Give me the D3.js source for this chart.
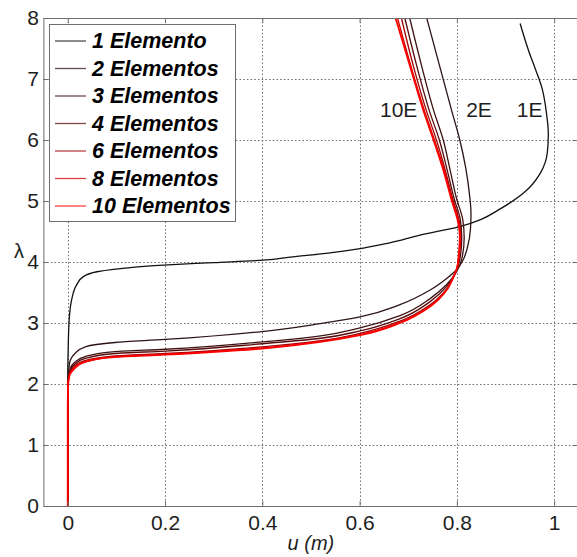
<!DOCTYPE html>
<html>
<head>
<meta charset="utf-8">
<script src="https://cdn.jsdelivr.net/npm/d3@7"></script>
<style>
  html, body { margin: 0; padding: 0; background: #fff; }
  svg { display: block; font-family: "Liberation Sans", Arial, sans-serif; }
</style>
</head>
<body>
<svg id="chart" width="577" height="557"></svg>
<script>
// Load-displacement curves: λ versus tip displacement u (m) for meshes of 1..10 elements.
// Each series is a list of [u, λ] pairs, ordered by increasing λ.
const el1 = [[0,0],[0,1.0],[0,2.0],[0.001,2.6],[0.003,3.05],[0.008,3.38],[0.018,3.62],[0.032,3.76],
  [0.06,3.84],[0.094,3.88],[0.197,3.95],[0.30,3.99],[0.402,4.03],[0.457,4.08],[0.539,4.15],
  [0.594,4.21],[0.66,4.31],[0.724,4.44],[0.806,4.58],[0.85,4.70],[0.889,4.87],[0.937,5.13],
  [0.971,5.45],[0.986,5.80],[0.988,6.10],[0.984,6.45],[0.975,6.85],[0.962,7.15],[0.948,7.45],[0.930,7.91]];
const el2 = [[0,0],[0,1.5],[0.001,2.1],[0.004,2.35],[0.015,2.50],[0.036,2.61],[0.097,2.68],[0.2,2.73],
  [0.399,2.86],[0.519,2.99],[0.601,3.10],[0.683,3.30],[0.745,3.54],[0.779,3.73],[0.798,3.86],
  [0.812,4.02],[0.822,4.25],[0.828,4.55],[0.829,4.80],[0.826,5.10],[0.818,5.55],[0.806,6.0],
  [0.789,6.49],[0.765,7.2],[0.738,8.0]];
const el3 = [[0,0],[0,1.6],[0.001,2.05],[0.005,2.25],[0.015,2.36],[0.036,2.45],[0.097,2.53],[0.2,2.57],
  [0.4,2.69],[0.52,2.79],[0.601,2.92],[0.683,3.12],[0.745,3.40],[0.779,3.63],[0.800,3.85],
  [0.811,4.08],[0.815,4.40],[0.812,4.70],[0.800,5.02],[0.786,5.51],[0.772,6.0],[0.752,6.49],
  [0.728,7.2],[0.703,8.0]];
const el4 = [[0,0],[0,1.6],[0.001,2.03],[0.005,2.22],[0.015,2.33],[0.036,2.42],[0.097,2.50],[0.2,2.54],
  [0.4,2.66],[0.52,2.75],[0.601,2.87],[0.683,3.07],[0.745,3.35],[0.779,3.60],[0.797,3.82],
  [0.807,4.08],[0.810,4.40],[0.807,4.70],[0.795,5.02],[0.780,5.51],[0.764,6.0],[0.743,6.49],
  [0.718,7.2],[0.693,8.0]];
const el6 = [[0,0],[0,1.6],[0.001,2.01],[0.004,2.18],[0.012,2.28],[0.03,2.37],[0.097,2.46],[0.2,2.50],
  [0.4,2.61],[0.52,2.71],[0.601,2.83],[0.683,3.03],[0.745,3.30],[0.779,3.56],[0.795,3.78],
  [0.804,4.08],[0.808,4.40],[0.805,4.67],[0.792,5.02],[0.776,5.51],[0.758,6.0],[0.737,6.49],
  [0.711,7.2],[0.686,8.0]];
const el8 = [[0,0],[0,1.6],[0.001,2.0],[0.004,2.16],[0.01,2.24],[0.025,2.33],[0.097,2.45],[0.2,2.49],
  [0.4,2.59],[0.52,2.70],[0.601,2.81],[0.683,3.01],[0.745,3.28],[0.779,3.55],[0.794,3.77],
  [0.802,3.95],[0.805,4.14],[0.807,4.41],[0.804,4.64],[0.790,5.02],[0.774,5.51],[0.754,6.0],
  [0.733,6.49],[0.706,7.2],[0.678,8.0]];
const el10 = [[0,0],[0,1.6],[0.001,2.0],[0.004,2.15],[0.008,2.2],[0.022,2.31],[0.042,2.38],[0.097,2.44],
  [0.2,2.48],[0.4,2.58],[0.519,2.69],[0.601,2.80],[0.683,3.0],[0.745,3.27],[0.779,3.54],
  [0.793,3.76],[0.801,3.92],[0.804,4.14],[0.806,4.41],[0.803,4.63],[0.789,5.02],[0.772,5.51],
  [0.752,6.0],[0.731,6.49],[0.704,7.2],[0.674,8.0]];

const seriesNames = ["1 Elemento", "2 Elementos", "3 Elementos", "4 Elementos", "6 Elementos", "8 Elementos", "10 Elementos"];
const seriesData = [el1, el2, el3, el4, el6, el8, el10];
const seriesColors = ["#111111", "#2e1414", "#3c1212", "#560c0c", "#a00000", "#d20000", "#ff0000"];

const xTicks = [0, 0.2, 0.4, 0.6, 0.8, 1];
const yTicks = [0, 1, 2, 3, 4, 5, 6, 7, 8];
const curveLabels = [["10E", 0.642, 6.37], ["2E", 0.819, 6.37], ["1E", 0.923, 6.37]];

const svg = d3.select("#chart");
const plotLeft = 43.4, plotRight = 578.5, plotTop = 18, plotBottom = 506;
const x = d3.scaleLinear().domain([-0.05, 1.05]).range([plotLeft, plotRight]);
const y = d3.scaleLinear().domain([0, 8]).range([plotBottom, plotTop]);

// dotted grid
const grid = svg.append("g").attr("stroke", "#6a6a6a").attr("stroke-width", 1)
  .attr("stroke-dasharray", "1.5,2.2");
grid.selectAll("line.gx").data(xTicks).join("line")
  .attr("x1", d => Math.round(x(d)) + 0.5).attr("x2", d => Math.round(x(d)) + 0.5)
  .attr("y1", plotTop).attr("y2", plotBottom);
grid.selectAll("line.gy").data(yTicks.filter(d => d > 0 && d < 8)).join("line")
  .attr("x1", plotLeft).attr("x2", plotRight)
  .attr("y1", d => Math.round(y(d)) + 0.5).attr("y2", d => Math.round(y(d)) + 0.5);

// curves
const line = d3.line().x(d => x(d[0])).y(d => y(d[1])).curve(d3.curveMonotoneY);
svg.append("g").selectAll("path").data(seriesData).join("path")
  .attr("d", line)
  .attr("fill", "none")
  .attr("stroke", (d, i) => seriesColors[i])
  .attr("stroke-width", (d, i) => i === seriesData.length - 1 ? 1.8 : 1.3)
  .attr("stroke-linejoin", "round");

// axes box with inward ticks
const axisColor = "#6e6e6e";
const fontSize = 21;
function styleAxis(g, showText) {
  g.select(".domain").attr("stroke", axisColor);
  g.selectAll(".tick line").attr("stroke", axisColor);
  g.selectAll(".tick text").attr("fill", "#1e1e1e").style("font-size", fontSize + "px")
    .style("font-family", "'Liberation Sans', Arial, sans-serif");
  if (!showText) g.selectAll(".tick text").remove();
}
svg.append("g").attr("transform", `translate(0,${plotBottom})`)
  .call(d3.axisBottom(x).tickValues(xTicks).tickFormat(d3.format("~g")).tickSize(-5).tickSizeOuter(0).tickPadding(9))
  .call(g => styleAxis(g, true));
svg.append("g").attr("transform", `translate(0,${plotTop})`)
  .call(d3.axisTop(x).tickValues(xTicks).tickSize(-5).tickSizeOuter(0))
  .call(g => styleAxis(g, false));
svg.append("g").attr("transform", `translate(${plotLeft},0)`)
  .call(d3.axisLeft(y).tickValues(yTicks).tickFormat(d3.format("d")).tickSize(-5).tickSizeOuter(0).tickPadding(4.5))
  .call(g => styleAxis(g, true));
svg.append("g").attr("transform", `translate(${plotRight},0)`)
  .call(d3.axisRight(y).tickValues(yTicks).tickSize(-5).tickSizeOuter(0))
  .call(g => styleAxis(g, false));

// axis titles
svg.append("text").attr("x", (plotLeft + plotRight) / 2).attr("y", 550)
  .attr("text-anchor", "middle").style("font-size", "20px").style("font-style", "italic")
  .attr("fill", "#1e1e1e").text("u (m)");
svg.append("text").attr("x", 19).attr("y", 258)
  .attr("text-anchor", "middle").style("font-size", "20px")
  .attr("fill", "#1e1e1e").text("λ");

// curve annotations
svg.append("g").selectAll("text").data(curveLabels).join("text")
  .attr("x", d => x(d[1])).attr("y", d => y(d[2]))
  .style("font-size", "21px").attr("fill", "#1e1e1e").text(d => d[0]);

// legend
const lg = svg.append("g");
lg.append("rect").attr("x", 49.5).attr("y", 24.5).attr("width", 186).attr("height", 197)
  .attr("fill", "#fff").attr("stroke", axisColor).attr("stroke-width", 1);
const rows = lg.selectAll("g").data(seriesNames).join("g")
  .attr("transform", (d, i) => `translate(0,${41 + i * 27.5})`);
rows.append("line").attr("x1", 55).attr("x2", 86).attr("y1", 0).attr("y2", 0)
  .attr("stroke", (d, i) => seriesColors[i]).attr("stroke-width", 1.3).attr("stroke-opacity", 0.75);
rows.append("text").attr("x", 92).attr("y", 7.3)
  .style("font-size", "21.5px").style("font-weight", "bold").style("font-style", "italic")
  .attr("fill", "#000").text(d => d);
</script>
</body>
</html>
